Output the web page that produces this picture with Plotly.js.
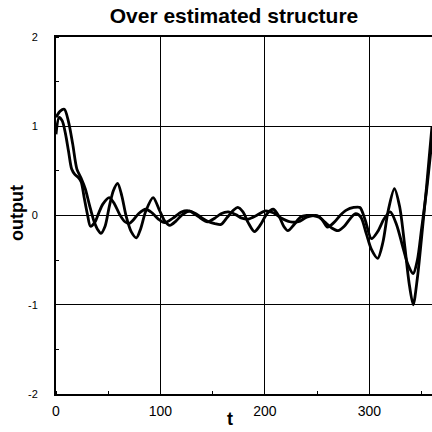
<!DOCTYPE html>
<html>
<head>
<meta charset="utf-8">
<script src="https://cdn.plot.ly/plotly-3.0.1.min.js"></script>
<style>html,body{margin:0;padding:0;background:#fff;}#chart{width:432px;height:432px;}</style>
</head>
<body>
<div id="chart"></div>
<script>
// Curve 1 (leading response)
const t1 = [0,3,6,9,12,15,18,21,24,27,30,33,37,41,45,51,56,61,66,70,74,79,86,92,98,104,112,120,128,136,145,152,158,165,172,178,184,192,200,208,216,224,232,240,250,255,260,266,272,278,285,291,296,302,308,314,320,326,332,337,342,346,350,355,360];
const y1 = [0.91,1.10,1.06,0.92,0.72,0.52,0.46,0.43,0.38,0.20,0.02,-0.12,-0.08,0.03,0.13,0.20,0.13,0.01,-0.07,-0.09,-0.05,0.02,0.07,0.03,-0.04,-0.08,-0.03,0.04,0.05,-0.01,-0.07,-0.03,0.02,0.04,0.01,-0.03,-0.04,0.00,0.05,0.03,-0.03,-0.07,-0.07,-0.02,0.00,-0.05,-0.13,-0.08,0.00,0.06,0.09,0.09,-0.05,-0.26,-0.18,-0.04,0.04,-0.10,-0.35,-0.55,-0.65,-0.50,-0.15,0.30,0.85];
// Curve 2 (lagging response)
const t2 = [0,4,8,12,16,20,24,28,32,36,40,43,47,51,55,59,63,67,72,77,81,86,93,99,104,109,115,121,128,134,140,146,152,158,164,170,174,179,184,190,196,202,208,214,218,222,228,234,240,246,252,258,264,270,276,282,287,292,297,302,308,313,318,324,329,334,338,342,346,350,355,360];
const y2 = [1.10,1.17,1.19,1.05,0.80,0.52,0.42,0.30,0.12,-0.05,-0.16,-0.20,-0.12,0.10,0.28,0.36,0.22,0.00,-0.18,-0.25,-0.15,0.05,0.20,0.06,-0.06,-0.11,-0.06,0.01,0.05,0.02,-0.03,-0.07,-0.09,-0.10,-0.02,0.06,0.09,0.04,-0.08,-0.18,-0.10,0.02,0.07,-0.02,-0.12,-0.17,-0.10,-0.02,0.00,0.00,-0.02,-0.08,-0.14,-0.17,-0.12,-0.03,0.02,-0.02,-0.20,-0.38,-0.48,-0.30,0.05,0.30,0.10,-0.35,-0.75,-1.00,-0.70,-0.25,0.35,1.00];
const xTicks = [0,100,200,300];
const yTicks = [-2,-1,0,1,2];

const lineStyle = {color:'#000', width:2.8, shape:'spline', smoothing:0.8};
const traces = [
  {x:t1, y:y1, mode:'lines', line:lineStyle, hoverinfo:'skip'},
  {x:t2, y:y2, mode:'lines', line:lineStyle, hoverinfo:'skip'}
];
const font = 'Liberation Sans, Arial, sans-serif';
const layout = {
  width:432, height:432,
  margin:{l:56, r:0, t:37, b:38},
  paper_bgcolor:'#fff', plot_bgcolor:'#fff',
  showlegend:false,
  title:{text:'<b>Over estimated structure</b>', font:{family:font, size:21, color:'#000'},
         x:234/432, xref:'container', xanchor:'center', y:1-15.5/432, yref:'container', yanchor:'middle'},
  xaxis:{range:[0,360], tickvals:xTicks, ticktext:xTicks.map(String),
         showgrid:true, gridcolor:'#000', gridwidth:1,
         showline:true, linecolor:'#000', linewidth:2, mirror:true,
         ticks:'', zeroline:false,
         minor:{dtick:50, tick0:0, ticks:'inside', ticklen:3, tickcolor:'#000', showgrid:false},
         tickfont:{family:font, size:14, color:'#000'}, ticklabelstandoff:3},
  yaxis:{range:[-2,2], tickvals:yTicks, ticktext:yTicks.map(String),
         showgrid:true, gridcolor:'#000', gridwidth:1,
         showline:true, linecolor:'#000', linewidth:2, mirror:true,
         ticks:'', zeroline:false,
         minor:{dtick:0.5, tick0:0, ticks:'inside', ticklen:3, tickcolor:'#000', showgrid:false},
         tickfont:{family:'Liberation Sans Narrow, Arial Narrow, sans-serif', size:11, color:'#000'}, ticklabelstandoff:14},
  annotations:[
    {text:'<b>t</b>', xref:'paper', yref:'paper', x:(230-56)/376, y:-(419-394)/357, xanchor:'center', yanchor:'middle',
     showarrow:false, font:{family:font, size:18, color:'#000'}, borderpad:0},
    {text:'<b>output</b>', xref:'paper', yref:'paper', x:-(56-17)/376, y:(394-213)/357, xanchor:'center', yanchor:'middle',
     textangle:-90, showarrow:false, font:{family:font, size:18, color:'#000'}}
  ]
};
Plotly.newPlot('chart', traces, layout, {staticPlot:true, displayModeBar:false});
</script>
</body>
</html>
